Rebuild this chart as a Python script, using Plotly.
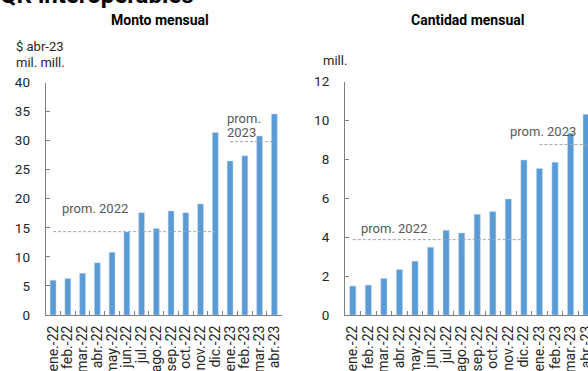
import plotly.graph_objects as go

categories = ["ene.-22", "feb.-22", "mar.-22", "abr.-22", "may.-22", "jun.-22",
              "jul.-22", "ago.-22", "sep.-22", "oct.-22", "nov.-22", "dic.-22",
              "ene.-23", "feb.-23", "mar.-23", "abr.-23"]
monto = [6.0, 6.3, 7.2, 9.0, 10.8, 14.3, 17.6, 14.9, 17.9, 17.6, 19.1, 31.4,
         26.5, 27.4, 30.8, 34.6]
cantidad = [1.49, 1.54, 1.88, 2.34, 2.77, 3.49, 4.36, 4.22, 5.18, 5.32, 5.97, 7.97,
            7.54, 7.86, 9.35, 10.32]
y_ticks_monto = [0, 5, 10, 15, 20, 25, 30, 35, 40]
y_ticks_cant = [0, 2, 4, 6, 8, 10, 12]

W, H = 588, 371
BLUE = "#5b9bd5"
AX = "#7f7f7f"
TXT = "#262626"
FONT = "Roboto"

def px(x):
    return x / W

def py(y):
    return 1 - y / H

fig = go.Figure()

def add_panel(vals, xa, ya):
    fig.add_trace(go.Bar(x=categories, y=vals, marker=dict(color=BLUE, line=dict(color="#c9dcf0", width=0.5)),
                         width=0.4, xaxis=xa, yaxis=ya, showlegend=False))
    m22 = sum(vals[:12]) / 12
    m23 = sum(vals[12:]) / 4
    for seg, m in ((categories[:12], m22), (categories[12:], m23)):
        fig.add_trace(go.Scatter(x=[seg[0], seg[-1]], y=[m, m], mode="lines",
                                 line=dict(color="#a6a6a6", width=1, dash="3px,2px"),
                                 xaxis=xa, yaxis=ya, showlegend=False, hoverinfo="skip"))

add_panel(monto, "x", "y")
add_panel(cantidad, "x2", "y2")

xcommon = dict(type="category", categoryorder="array", categoryarray=categories,
               tickmode="array", tickvals=categories, ticktext=categories,
               showline=True, linecolor=AX, linewidth=1, ticks="inside", tickson="boundaries",
               ticklen=4, tickcolor=AX, tickangle=-90, showgrid=False, automargin=False,
               tickfont=dict(family=FONT, size=14, color=TXT), ticklabelstandoff=4)
ycommon = dict(showline=True, linecolor=AX, linewidth=1, ticks="inside", ticklen=4,
               tickcolor=AX, showgrid=False, zeroline=False, automargin=False,
               tickfont=dict(family=FONT, size=13.5, color=TXT), ticklabelstandoff=12)

fig.update_layout(
    width=W, height=H, margin=dict(l=0, r=0, t=0, b=0, pad=0, autoexpand=False),
    plot_bgcolor="white", paper_bgcolor="white", bargap=0.6,
    xaxis=dict(domain=[px(45.7), px(281.7)], range=[-0.5, 15.5], anchor="y", **xcommon),
    yaxis=dict(domain=[py(315), py(82.5)], range=[0, 40], tickvals=y_ticks_monto, anchor="x", **ycommon),
    xaxis2=dict(domain=[px(345), 1.0], range=[-0.5, 15.12], anchor="y2", **xcommon),
    yaxis2=dict(domain=[py(315), py(81.7)], range=[0, 12], tickvals=y_ticks_cant, anchor="x2", **ycommon),
)

def ann(text, x, y, size=13, color=TXT, bold=False, xanchor="left", yanchor="middle"):
    if bold:
        text = "<b>" + text + "</b>"
    fig.add_annotation(text=text, x=px(x), y=py(y), xref="paper", yref="paper",
                       xanchor=xanchor, yanchor=yanchor, showarrow=False,
                       font=dict(family=FONT, size=size, color=color))

ann("QR interoperables", -2, -5.5, size=24, bold=True, color="#000000")
ann("Monto mensual", 159.5, 20, size=14, bold=True, color="#000000", xanchor="center")
ann("Cantidad mensual", 467, 20, size=14, bold=True, color="#000000", xanchor="center")
ann("$ abr-23", 14, 47, size=13)
ann("mil. mill.", 14, 62, size=13)
ann("mill.", 321, 61, size=13)
G = "#595959"
ann("prom. 2022", 60, 208, size=13, color=G)
ann("prom.", 225, 118, size=13, color=G)
ann("2023", 225, 133, size=13, color=G)
ann("prom. 2022", 359, 228, size=13, color=G)
ann("prom. 2023", 508, 131, size=13, color=G)

fig.write_html("out.html")
